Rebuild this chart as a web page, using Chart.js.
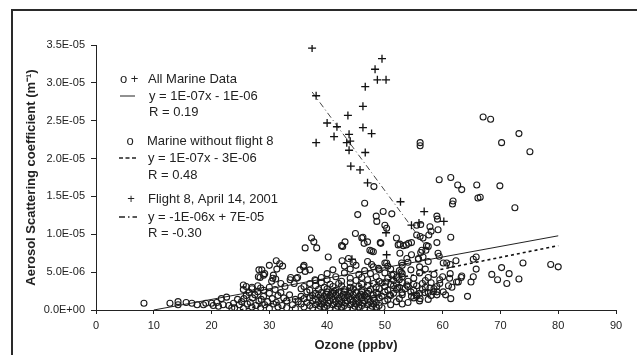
<!DOCTYPE html>
<html>
<head>
<meta charset="utf-8">
<script src="https://cdn.jsdelivr.net/npm/chart.js@4.4.1/dist/chart.umd.min.js"></script>
<style>
    body { margin: 0; background: #fff; overflow: hidden; }
    #wrap { position: relative; width: 637px; height: 355px; }
    #frame {
        position: absolute; left: 11px; top: 9px; right: -10px; bottom: -10px;
        border-left: 2px solid #2a2a2a; border-top: 2px solid #2a2a2a;
        pointer-events: none;
    }
</style>
</head>
<body>
<div id="wrap">
    <canvas id="scatChart" width="637" height="355"></canvas>
    <div id="frame"></div>
</div>
<script>
// ozone (ppbv), scattering in units of 1E-06 m-1
const xTicks = [0, 10, 20, 30, 40, 50, 60, 70, 80, 90];
const yTicks = [0, 5, 10, 15, 20, 25, 30, 35];

const marineData = [
    // low band, left
    [8.3, 0.9], [12.8, 0.9], [14.2, 0.7], [14.2, 1.1], [15.6, 1.0], [16.6, 0.9], [17.5, 0.7],
    [18.6, 0.7], [19.0, 0.9], [20.0, 0.9], [20.3, 0.6], [20.9, 1.0], [21.2, 0.5], [21.7, 1.5],
    [22.6, 1.7], [22.0, 0.7], [23.0, 0.6], [23.8, 0.9], [24.5, 1.4], [23.5, 0.3],
    // main cluster
    [24, 0.3], [25.5, 0.2], [27, 0.4], [28.5, 0.3], [30, 0.2], [31.5, 0.4], [33, 0.3], [34.5, 0.2],
    [36, 0.4], [37.5, 0.3], [38.5, 0.2], [39.5, 0.4], [40.5, 0.3], [41.5, 0.2], [42.5, 0.4],
    [43.5, 0.3], [44.5, 0.2], [45.5, 0.4], [46.5, 0.3], [47.5, 0.2], [48.5, 0.4], [49.5, 0.3],
    [24.8, 0.7], [26.2, 0.8], [27.7, 0.6], [29.2, 0.7], [30.7, 0.8], [32.2, 0.6], [34, 0.7],
    [35.5, 0.8], [37, 0.6], [38, 0.7], [39, 0.8], [40, 0.6], [41, 0.7], [42, 0.8], [43, 0.6],
    [44, 0.7], [45, 0.8], [46, 0.6], [47, 0.7], [48, 0.8], [49, 0.6], [51, 0.7], [53, 0.8],
    [25.2, 1.1], [26.7, 1.0], [28.2, 1.2], [29.7, 1.1], [31.2, 1.0], [33, 1.2], [35, 1.1],
    [36.5, 1.0], [37.5, 1.2], [38.5, 1.1], [39.5, 1.0], [40.5, 1.2], [41.5, 1.1], [42.5, 1.0],
    [43.5, 1.2], [44.5, 1.1], [45.5, 1.0], [46.5, 1.2], [47.5, 1.1], [48.5, 1.0], [50, 1.2],
    [52, 1.1], [54, 1.0], [56, 1.2],
    [25.6, 1.5], [27.1, 1.6], [28.6, 1.4], [30.5, 1.5], [32.5, 1.6], [34.5, 1.4], [36, 1.5],
    [37, 1.6], [38, 1.4], [39, 1.5], [40, 1.6], [41, 1.4], [42, 1.5], [43, 1.6], [44, 1.4],
    [45, 1.5], [46, 1.6], [47, 1.4], [48, 1.5], [49, 1.6], [50.5, 1.4], [52.5, 1.5], [55, 1.6],
    [57.5, 1.4],
    [26, 1.9], [27.5, 2.0], [29, 1.8], [31.5, 1.9], [33.5, 2.0], [35.5, 1.8], [37.5, 1.9],
    [38.5, 2.0], [39.5, 1.8], [40.5, 1.9], [41.5, 2.0], [42.5, 1.8], [43.5, 1.9], [44.5, 2.0],
    [45.5, 1.8], [46.5, 1.9], [48, 2.0], [49.5, 1.8], [51, 1.9], [53, 2.0], [55.5, 1.8],
    [58, 1.9], [60.5, 2.0],
    [26.5, 2.3], [28, 2.4], [30, 2.2], [32, 2.3], [36.5, 2.4], [38, 2.2], [39, 2.3], [40, 2.4],
    [41, 2.2], [42, 2.3], [43, 2.4], [44, 2.2], [45, 2.3], [46, 2.4], [47, 2.2], [48.5, 2.3],
    [50, 2.4], [51.5, 2.2], [53, 2.3], [54.5, 2.4], [56, 2.2], [57.5, 2.3], [59, 2.4],
    [25.5, 2.7], [27, 2.8], [29, 2.6], [31, 2.7], [35.5, 2.8], [37, 2.6], [38.5, 2.7], [40, 2.8],
    [41.5, 2.6], [43, 2.7], [44.5, 2.8], [46, 2.6], [47.5, 2.7], [49, 2.8], [50.5, 2.6],
    [52, 2.7], [53.5, 2.8], [55, 2.6], [56.5, 2.7], [58.5, 2.8],
    [26, 3.1], [28, 3.2], [30, 3.0], [36, 3.1], [38, 3.2], [39.5, 3.0], [41, 3.1], [42.5, 3.2],
    [44, 3.0], [45.5, 3.1], [47, 3.2], [48.5, 3.0], [50, 3.1], [51.5, 3.2], [52.5, 3.0],
    [54, 3.1], [55.5, 3.2], [57, 3.0], [59, 3.1], [61, 3.2],
    [37, 3.5], [39, 3.6], [40.5, 3.4], [42, 3.5], [44, 3.6], [46, 3.4], [48, 3.5], [49.5, 3.6],
    [51, 3.4], [52, 3.5], [53, 3.6], [55, 3.4], [56.5, 3.5], [58, 3.6],
    [38, 3.9], [40, 4.0], [42.5, 3.8], [45, 3.9], [47, 4.0], [49, 3.8], [51.5, 3.9], [52.5, 4.0],
    [54, 3.8], [57, 3.9], [59.5, 4.0],
    [39, 4.3], [41.5, 4.4], [44, 4.2], [46, 4.3], [48.5, 4.4], [50.5, 4.2], [52, 4.3], [53, 4.4],
    [55, 4.2], [57.5, 4.3], [60, 4.4],
    [40, 4.8], [43, 4.9], [45.5, 4.7], [47.5, 4.8], [50, 4.9], [51.5, 4.7], [53, 4.8], [56, 4.9],
    [58.5, 4.7],
    [41, 5.3], [44, 5.4], [46.5, 5.2], [49, 5.3], [51, 5.4], [52.5, 5.2], [54.5, 5.3], [57, 5.4],
    [43, 5.8], [45, 5.9], [48, 5.7], [50.5, 5.8], [53, 5.9], [56, 5.7],
    [44.5, 6.3], [47, 6.4], [50, 6.2], [54, 6.3], [57.5, 6.4],
    // extra fill of the darkest part of the cluster
    [38.8, 0.5], [40.2, 0.9], [41.8, 0.5], [43.2, 0.9], [44.8, 0.5], [46.2, 0.9], [47.8, 0.5],
    [39.2, 1.3], [40.8, 1.7], [42.2, 1.3], [43.8, 1.7], [45.2, 1.3], [46.8, 1.7], [48.2, 1.3],
    [39.8, 2.1], [41.2, 2.5], [42.8, 2.1], [44.2, 2.5], [45.8, 2.1], [47.2, 2.5], [48.8, 2.1],
    [50.8, 2.0], [52.2, 2.9], [53.8, 3.3], [51.2, 4.6], [52.8, 5.0], [50.2, 3.7],
    // upper-left spread
    [28.7, 5.3], [28.4, 4.3], [29.2, 4.8], [30.0, 5.9], [31.2, 6.5], [31.8, 6.1], [32.3, 5.8],
    [31.3, 5.4], [30.6, 4.2], [32.0, 3.5], [32.7, 3.1], [33.6, 4.0], [34.9, 4.3], [35.3, 5.3],
    [35.9, 5.7], [37.3, 9.5], [36.2, 8.2], [37.7, 9.0], [38.2, 8.2], [37.0, 5.3], [37.9, 4.0],
    [29.0, 4.6], [30.7, 4.6], [31.1, 4.1], [30.4, 3.8], [33.7, 4.3], [34.7, 4.2], [34.3, 3.5],
    [36.0, 5.9], [36.2, 5.1], [28.1, 4.4], [28.2, 5.3], [25.5, 3.3], [27, 3.0], [28.5, 2.9],
    // middle spread
    [40.2, 7.0], [42.6, 6.5], [42.5, 8.5], [43.1, 9.0], [42.7, 8.4], [43.7, 6.8], [44.9, 10.1],
    [46.0, 9.5], [46.4, 8.8], [46.2, 9.6], [47.0, 9.0], [47.4, 7.9], [47.7, 7.8], [48.0, 7.7],
    [49.2, 8.9], [49.3, 8.8], [52.0, 9.5], [52.3, 8.6], [52.6, 8.7], [53.2, 8.5], [53.7, 8.6],
    [54.1, 8.8], [54.6, 8.9], [56.4, 7.9], [57.2, 8.5], [57.5, 8.4], [57.1, 7.9], [59.0, 8.9],
    [47.7, 6.0], [48.9, 5.5], [50.3, 6.2], [55.8, 6.8], [52.6, 7.5], [53.8, 6.8], [54.6, 7.3],
    [52.9, 6.2], [56.2, 7.6], [56.6, 7.0], [55.8, 6.7], [59.2, 7.5], [59.4, 7.1], [60.7, 6.2],
    [61.3, 6.0], [60.1, 6.2], [62.3, 6.5], [65.8, 7.0], [65.3, 6.7],
    // higher points
    [46.5, 14.1], [45.3, 12.6], [48.5, 12.4], [48.6, 11.7], [49.7, 13.0], [51.2, 12.7],
    [50.0, 11.2], [50.3, 10.8], [48.1, 16.3], [59.0, 12.4], [59.1, 12.0], [59.2, 10.6],
    [61.4, 9.6], [58.0, 10.4], [57.6, 9.9], [57.8, 11.0], [55.5, 11.2], [56.2, 11.3],
    [55.5, 9.9], [56.1, 9.7], [56.6, 9.5],
    [56.1, 22.1], [56.1, 21.7], [59.4, 17.2], [61.4, 17.5], [62.6, 16.5], [63.3, 15.9],
    [65.9, 16.5], [66.1, 14.8], [61.8, 14.4], [61.7, 14.0], [67.0, 25.5], [68.3, 25.2],
    [73.2, 23.3], [70.2, 22.1], [75.1, 20.9], [69.9, 16.4], [72.5, 13.5], [66.5, 14.9],
    // right, low
    [70.2, 5.6], [73.9, 6.2], [78.7, 6.0], [80.0, 5.7], [68.5, 4.7], [69.5, 4.0], [71.5, 4.8],
    [71.1, 3.5], [73.2, 4.1], [65.8, 5.4], [65.3, 4.4], [64.9, 3.7], [63.2, 4.3], [62.4, 3.7],
    [61.6, 3.0], [61.4, 1.5], [64.3, 1.8], [61.3, 4.8], [61.2, 4.2], [63.3, 4.5], [62.7, 3.7],
    [59.5, 3.5], [58.4, 2.4], [57.8, 2.9], [60.1, 2.4], [59.0, 2.0], [56.9, 2.3], [56.1, 1.5],
    [55.5, 2.0], [54.6, 1.8]
];

const flight8Data = [
    [37.4, 34.6], [49.5, 33.2], [48.3, 31.8], [48.7, 30.4], [50.2, 30.4], [46.6, 29.5],
    [38.1, 28.3], [46.2, 26.9], [43.6, 25.7], [40.0, 24.7], [41.7, 24.2], [46.2, 24.1],
    [47.7, 23.3], [43.8, 23.2], [41.2, 22.9], [38.1, 22.1], [43.4, 22.1], [44.0, 22.3],
    [43.8, 21.1], [46.6, 20.8], [44.1, 19.0], [45.7, 18.5], [47.0, 16.8], [52.7, 14.3],
    [56.8, 13.0], [54.6, 11.2], [55.9, 11.5], [60.2, 11.7], [50.2, 10.2], [50.3, 7.3],
    [44.3, 6.7]
];

// trend lines, end points
const allFit = [[10, 0], [80, 9.8]];
const marineFit = [[25, 0], [80, 8.5]];
const flight8Fit = [[37.4, 28.8], [57.5, 8.0]];

function toPoints(arr) {
    return arr.map(p => ({ x: p[0], y: p[1] }));
}

function sciLabel(v) {
    const parts = v.toExponential(1).split('e');
    const n = parseInt(parts[1], 10);
    return parts[0] + 'E' + (n < 0 ? '-' : '+') + String(Math.abs(n)).padStart(2, '0');
}

const FONT = '"Liberation Sans", Arial, sans-serif';
const INK = '#222';

const legendPlugin = {
    id: 'textLegend',
    afterDatasetsDraw(chart) {
        const ctx = chart.ctx;
        ctx.save();
        ctx.fillStyle = INK;
        ctx.strokeStyle = INK;
        ctx.font = '13px ' + FONT;
        ctx.textBaseline = 'middle';
        ctx.textAlign = 'left';

        ctx.fillText('o +', 120, 79);
        ctx.fillText('All Marine Data', 148, 79);
        ctx.lineWidth = 1;
        ctx.beginPath(); ctx.moveTo(120, 96); ctx.lineTo(135, 96); ctx.stroke();
        ctx.fillText('y = 1E-07x - 1E-06', 149, 96);
        ctx.fillText('R = 0.19', 149, 112);

        ctx.textAlign = 'center';
        ctx.fillText('o', 130, 141);
        ctx.textAlign = 'left';
        ctx.fillText('Marine without flight 8', 147, 141);
        ctx.setLineDash([4, 2.5]);
        ctx.lineWidth = 1.3;
        ctx.beginPath(); ctx.moveTo(119, 158); ctx.lineTo(137, 158); ctx.stroke();
        ctx.fillText('y = 1E-07x - 3E-06', 148, 158);
        ctx.fillText('R = 0.48', 148, 175);

        ctx.textAlign = 'center';
        ctx.fillText('+', 131, 199);
        ctx.textAlign = 'left';
        ctx.fillText('Flight 8, April 14, 2001', 148, 199);
        ctx.setLineDash([6, 3, 1.5, 3]);
        ctx.lineWidth = 1.3;
        ctx.beginPath(); ctx.moveTo(119, 217); ctx.lineTo(137, 217); ctx.stroke();
        ctx.fillText('y = -1E-06x + 7E-05', 148, 217);
        ctx.fillText('R = -0.30', 148, 233);
        ctx.restore();
    }
};

const ctx = document.getElementById('scatChart').getContext('2d');
new Chart(ctx, {
    type: 'scatter',
    data: {
        datasets: [
            {
                label: 'Marine without flight 8',
                data: toPoints(marineData),
                pointStyle: 'circle',
                pointRadius: 3,
                borderWidth: 1.1,
                borderColor: '#1a1a1a',
                backgroundColor: 'rgba(0,0,0,0)'
            },
            {
                label: 'Flight 8, April 14, 2001',
                data: toPoints(flight8Data),
                pointStyle: 'cross',
                pointRadius: 4,
                borderWidth: 1.3,
                borderColor: '#111',
                backgroundColor: '#111'
            },
            {
                type: 'line',
                label: 'All Marine Data fit',
                data: toPoints(allFit),
                borderColor: INK,
                borderWidth: 1,
                pointRadius: 0,
                fill: false
            },
            {
                type: 'line',
                label: 'Marine fit',
                data: toPoints(marineFit),
                borderColor: '#111',
                borderWidth: 1.6,
                borderDash: [3, 3],
                pointRadius: 0,
                fill: false
            },
            {
                type: 'line',
                label: 'Flight 8 fit',
                data: toPoints(flight8Fit),
                borderColor: '#444',
                borderWidth: 1,
                borderDash: [6, 3, 1, 3],
                pointRadius: 0,
                fill: false
            }
        ]
    },
    options: {
        responsive: false,
        animation: false,
        layout: { padding: { top: 45, right: 21, left: 0, bottom: 0 } },
        plugins: {
            legend: { display: false },
            tooltip: { enabled: false }
        },
        scales: {
            x: {
                type: 'linear',
                min: 0,
                max: 90,
                afterFit(scale) { scale.height = 45; },
                afterBuildTicks(scale) { scale.ticks = xTicks.map(v => ({ value: v })); },
                ticks: {
                    color: INK,
                    font: { family: FONT, size: 11 },
                    padding: 5,
                    maxRotation: 0
                },
                grid: { drawOnChartArea: false, drawTicks: true, tickLength: 4, color: INK },
                border: { display: true, color: INK, width: 1 },
                title: {
                    display: true,
                    text: 'Ozone (ppbv)',
                    color: INK,
                    font: { family: FONT, size: 13, weight: 'bold' },
                    padding: { top: 0, bottom: 2 }
                }
            },
            y: {
                type: 'linear',
                min: 0,
                max: 35,
                afterFit(scale) { scale.width = 96; },
                afterBuildTicks(scale) { scale.ticks = yTicks.map(v => ({ value: v })); },
                ticks: {
                    color: INK,
                    font: { family: FONT, size: 11 },
                    padding: 6,
                    callback: v => sciLabel(v * 1e-6)
                },
                grid: { drawOnChartArea: false, drawTicks: true, tickLength: 5, color: INK },
                border: { display: true, color: INK, width: 1 },
                title: {
                    display: true,
                    text: 'Aerosol Scattering coefficient (m\u207B\u00B9)',
                    color: INK,
                    font: { family: FONT, size: 13, weight: 'bold' },
                    padding: { top: 24, bottom: 0 }
                }
            }
        }
    },
    plugins: [legendPlugin]
});
</script>
</body>
</html>
